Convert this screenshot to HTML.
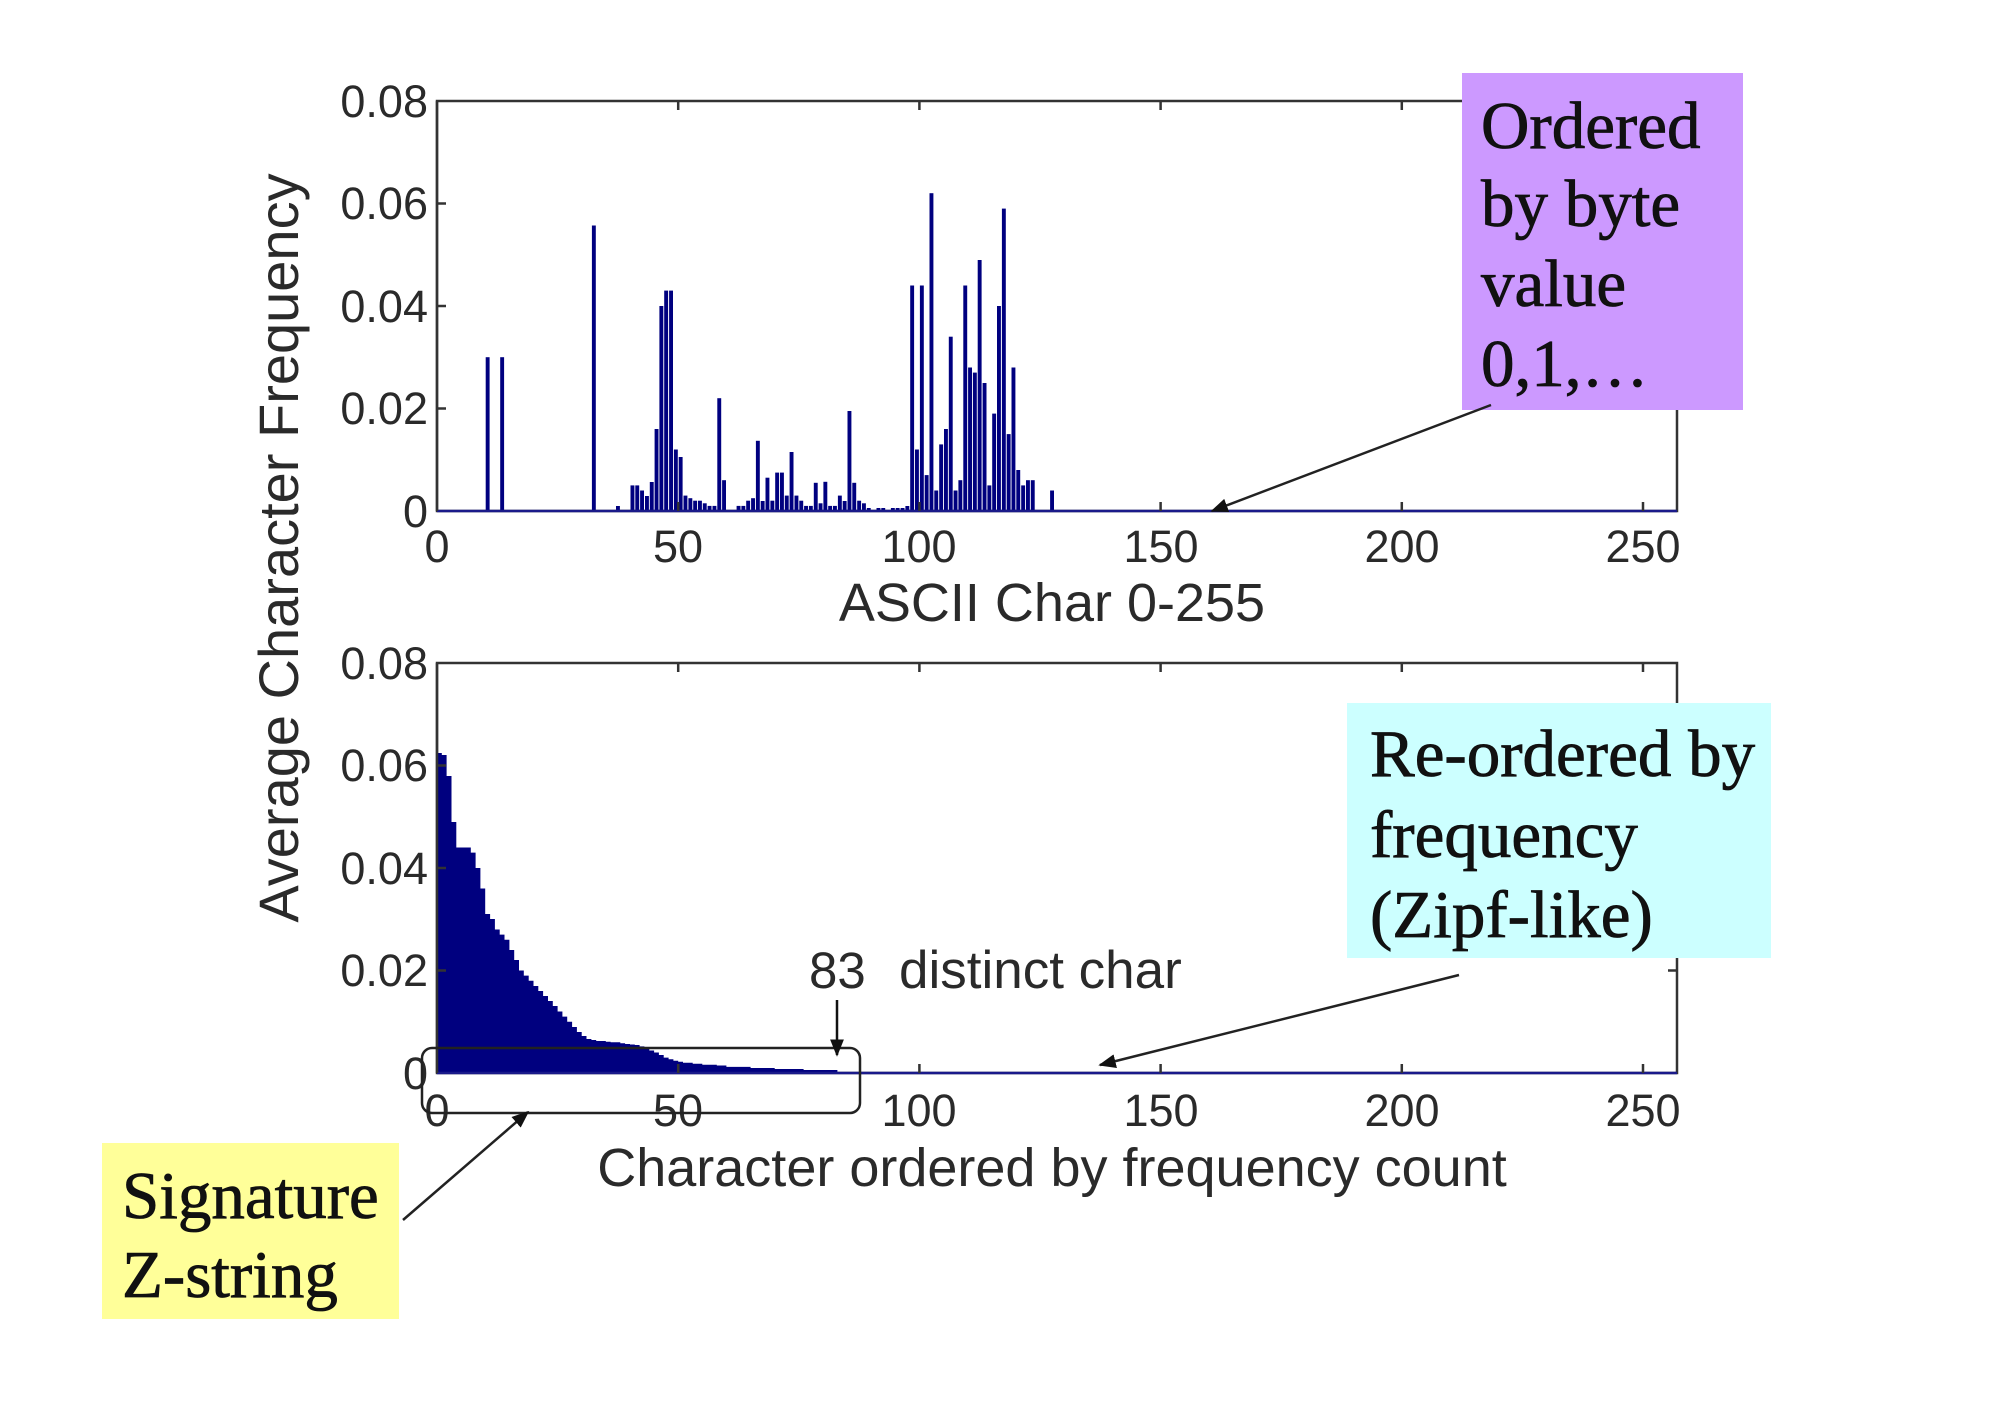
<!DOCTYPE html>
<html><head><meta charset="utf-8"><style>
html,body{margin:0;padding:0;background:#fff;}
svg{display:block;}
.t{font-family:"Liberation Sans",Arial,sans-serif;fill:#2a2a2a;}
.s{font-family:"Liberation Serif","Times New Roman",serif;fill:#111;stroke:#111;stroke-width:0.8;}
</style></head><body>
<svg width="2000" height="1418" viewBox="0 0 2000 1418" xmlns="http://www.w3.org/2000/svg">
<defs><marker id="ah" viewBox="0 0 10 10" refX="9" refY="5" markerWidth="7" markerHeight="7" orient="auto"><path d="M0,1 L10,5 L0,9 z" fill="#111"/></marker></defs>
<rect width="2000" height="1418" fill="#fff"/>

<rect x="437" y="101" width="1240" height="410" fill="#fff" stroke="#333" stroke-width="2.5"/>
<g fill="#00007f">
<rect x="485.7" y="357.2" width="3.9" height="153.8"/>
<rect x="500.2" y="357.2" width="3.9" height="153.8"/>
<rect x="591.9" y="225.5" width="3.9" height="285.5"/>
<rect x="616" y="506" width="3.9" height="5"/>
<rect x="630.5" y="485.4" width="3.9" height="25.6"/>
<rect x="635.3" y="485.4" width="3.9" height="25.6"/>
<rect x="640.1" y="490.5" width="3.9" height="20.5"/>
<rect x="645" y="496" width="3.9" height="15"/>
<rect x="649.8" y="482" width="3.9" height="29"/>
<rect x="654.6" y="429" width="3.9" height="82"/>
<rect x="659.4" y="306" width="3.9" height="205"/>
<rect x="664.2" y="290.6" width="3.9" height="220.4"/>
<rect x="669.1" y="290.6" width="3.9" height="220.4"/>
<rect x="673.9" y="449.5" width="3.9" height="61.5"/>
<rect x="678.7" y="457" width="3.9" height="54"/>
<rect x="683.5" y="495.6" width="3.9" height="15.4"/>
<rect x="688.4" y="498.2" width="3.9" height="12.8"/>
<rect x="693.2" y="500.7" width="3.9" height="10.3"/>
<rect x="698" y="500.7" width="3.9" height="10.3"/>
<rect x="702.8" y="503.3" width="3.9" height="7.7"/>
<rect x="707.6" y="505.9" width="3.9" height="5.1"/>
<rect x="712.5" y="505.9" width="3.9" height="5.1"/>
<rect x="717.3" y="398.2" width="3.9" height="112.8"/>
<rect x="722.1" y="480.2" width="3.9" height="30.8"/>
<rect x="736.6" y="505.9" width="3.9" height="5.1"/>
<rect x="741.4" y="505.9" width="3.9" height="5.1"/>
<rect x="746.2" y="500.7" width="3.9" height="10.3"/>
<rect x="751.1" y="498.2" width="3.9" height="12.8"/>
<rect x="755.9" y="440.8" width="3.9" height="70.2"/>
<rect x="760.7" y="501" width="3.9" height="10"/>
<rect x="765.5" y="477.7" width="3.9" height="33.3"/>
<rect x="770.4" y="500.7" width="3.9" height="10.3"/>
<rect x="775.2" y="472.6" width="3.9" height="38.4"/>
<rect x="780" y="472.6" width="3.9" height="38.4"/>
<rect x="784.8" y="495.6" width="3.9" height="15.4"/>
<rect x="789.6" y="452" width="3.9" height="59"/>
<rect x="794.5" y="495.6" width="3.9" height="15.4"/>
<rect x="799.3" y="500.7" width="3.9" height="10.3"/>
<rect x="804.1" y="505.9" width="3.9" height="5.1"/>
<rect x="808.9" y="505.9" width="3.9" height="5.1"/>
<rect x="813.8" y="482.8" width="3.9" height="28.2"/>
<rect x="818.6" y="503.3" width="3.9" height="7.7"/>
<rect x="823.4" y="481.8" width="3.9" height="29.2"/>
<rect x="828.2" y="505.9" width="3.9" height="5.1"/>
<rect x="833" y="505.9" width="3.9" height="5.1"/>
<rect x="837.9" y="495.6" width="3.9" height="15.4"/>
<rect x="842.7" y="501" width="3.9" height="10"/>
<rect x="847.5" y="411" width="3.9" height="100"/>
<rect x="852.3" y="482.8" width="3.9" height="28.2"/>
<rect x="857.2" y="500.7" width="3.9" height="10.3"/>
<rect x="862" y="503.3" width="3.9" height="7.7"/>
<rect x="866.8" y="508" width="3.9" height="3"/>
<rect x="876.5" y="508" width="3.9" height="3"/>
<rect x="881.3" y="508" width="3.9" height="3"/>
<rect x="890.9" y="508" width="3.9" height="3"/>
<rect x="895.7" y="508" width="3.9" height="3"/>
<rect x="900.6" y="508" width="3.9" height="3"/>
<rect x="905.4" y="506" width="3.9" height="5"/>
<rect x="910.2" y="285.5" width="3.9" height="225.5"/>
<rect x="915" y="449.5" width="3.9" height="61.5"/>
<rect x="919.9" y="285.5" width="3.9" height="225.5"/>
<rect x="924.7" y="475.1" width="3.9" height="35.9"/>
<rect x="929.5" y="193.2" width="3.9" height="317.8"/>
<rect x="934.3" y="490.5" width="3.9" height="20.5"/>
<rect x="939.2" y="444.4" width="3.9" height="66.6"/>
<rect x="944" y="429" width="3.9" height="82"/>
<rect x="948.8" y="336.7" width="3.9" height="174.3"/>
<rect x="953.6" y="490.5" width="3.9" height="20.5"/>
<rect x="958.4" y="480.2" width="3.9" height="30.8"/>
<rect x="963.3" y="285.5" width="3.9" height="225.5"/>
<rect x="968.1" y="367.5" width="3.9" height="143.5"/>
<rect x="972.9" y="372.6" width="3.9" height="138.4"/>
<rect x="977.7" y="260" width="3.9" height="251"/>
<rect x="982.6" y="383" width="3.9" height="128"/>
<rect x="987.4" y="485.4" width="3.9" height="25.6"/>
<rect x="992.2" y="413.6" width="3.9" height="97.4"/>
<rect x="997" y="306" width="3.9" height="205"/>
<rect x="1001.9" y="208.6" width="3.9" height="302.4"/>
<rect x="1006.7" y="434.1" width="3.9" height="76.9"/>
<rect x="1011.5" y="367.5" width="3.9" height="143.5"/>
<rect x="1016.3" y="470" width="3.9" height="41"/>
<rect x="1021.2" y="485.4" width="3.9" height="25.6"/>
<rect x="1026" y="480.2" width="3.9" height="30.8"/>
<rect x="1030.8" y="480.2" width="3.9" height="30.8"/>
<rect x="1050.1" y="490.5" width="3.9" height="20.5"/>
</g>
<line x1="437" y1="511" x2="1677" y2="511" stroke="#1a1a8a" stroke-width="2.5"/>
<g stroke="#333" stroke-width="2.5">
<line x1="437" y1="101" x2="437" y2="511"/>
<path d="M678.2,511v-9 M919.4,511v-9 M1160.6,511v-9 M1401.8,511v-9 M1643,511v-9 M678.2,101v9 M919.4,101v9 M1160.6,101v9 M1401.8,101v9 M1643,101v9 M437,408.5h9 M437,306h9 M437,203.5h9 M1677,408.5h-9 M1677,306h-9 M1677,203.5h-9"/>
</g>
<g class="t" font-size="45" text-anchor="end">
<text x="428" y="117">0.08</text><text x="428" y="219">0.06</text><text x="428" y="322">0.04</text><text x="428" y="424">0.02</text><text x="428" y="527">0</text>
</g>
<g class="t" font-size="45" text-anchor="middle">
<text x="437" y="562">0</text><text x="678" y="562">50</text><text x="919" y="562">100</text><text x="1161" y="562">150</text><text x="1402" y="562">200</text><text x="1643" y="562">250</text>
</g>
<text class="t" x="1052" y="621" font-size="54" text-anchor="middle">ASCII Char 0-255</text>

<rect x="437" y="663" width="1240" height="410" fill="#fff" stroke="#333" stroke-width="2.5"/>
<path fill="#00007f" d="M437,1073 V753 H441.8 V755 H446.6 V776 H451.5 V822 H456.3 V847.5 H470.8 V852.6 H475.6 V868 H480.4 V888.5 H485.2 V914 H490.1 V919 H494.9 V929.5 H499.7 V934.6 H504.5 V939.7 H509.4 V950 H514.2 V960 H519 V970.5 H523.8 V975.6 H528.7 V980.8 H533.5 V986 H538.3 V991 H543.1 V996 H548 V1001 H552.8 V1006 H557.6 V1011.5 H562.4 V1016.6 H567.2 V1021.7 H572.1 V1027 H576.9 V1032 H581.7 V1036 H586.5 V1039 H591.4 V1040 H596.2 V1041 H605.8 V1041.7 H610.6 V1042.3 H620.3 V1043.3 H625.1 V1044 H630 V1044.5 H634.8 V1045 H639.6 V1046.4 H644.4 V1048.4 H649.3 V1050.5 H654.1 V1052.5 H658.9 V1055 H663.7 V1057.6 H668.6 V1059.2 H673.4 V1060.7 H678.2 V1061.7 H683 V1062.8 H692.7 V1063.8 H702.3 V1064.8 H716.8 V1065.5 H726.4 V1066.9 H750.6 V1068 H774.7 V1069 H803.6 V1070 H837.4 V1073 Z"/>
<line x1="437" y1="1073" x2="1677" y2="1073" stroke="#1a1a8a" stroke-width="2.5"/>
<g stroke="#333" stroke-width="2.5">
<line x1="437" y1="663" x2="437" y2="1073"/>
<path d="M678.2,1073v-9 M919.4,1073v-9 M1160.6,1073v-9 M1401.8,1073v-9 M1643,1073v-9 M678.2,663v9 M919.4,663v9 M1160.6,663v9 M1401.8,663v9 M1643,663v9 M437,970.5h9 M437,868h9 M437,765.5h9 M1677,970.5h-9 M1677,868h-9 M1677,765.5h-9"/>
</g>
<g class="t" font-size="45" text-anchor="end">
<text x="428" y="679">0.08</text><text x="428" y="781">0.06</text><text x="428" y="884">0.04</text><text x="428" y="986">0.02</text><text x="428" y="1089">0</text>
</g>
<g class="t" font-size="45" text-anchor="middle">
<text x="437" y="1126">0</text><text x="678" y="1126">50</text><text x="919" y="1126">100</text><text x="1161" y="1126">150</text><text x="1402" y="1126">200</text><text x="1643" y="1126">250</text>
</g>
<text class="t" x="1052" y="1186" font-size="54" text-anchor="middle">Character ordered by frequency count</text>

<text class="t" transform="translate(298,548) rotate(-90)" font-size="56" text-anchor="middle">Average Character Frequency</text>

<rect x="422" y="1048" width="438" height="65" rx="10" fill="none" stroke="#222" stroke-width="2.5"/>
<text class="t" x="809" y="988" font-size="51" fill="#111">83</text>
<text class="t" x="899" y="988" font-size="53" fill="#111">distinct char</text>
<line x1="837" y1="1000" x2="837" y2="1055" stroke="#111" stroke-width="2.5" marker-end="url(#ah)"/>

<rect x="1462" y="73" width="281" height="337" fill="#cc99ff"/>
<g class="s" font-size="67">
<text x="1481" y="148">Ordered</text><text x="1481" y="226">by byte</text><text x="1481" y="306">value</text><text x="1481" y="386">0,1,…</text>
</g>
<line x1="1491" y1="405" x2="1212" y2="511" stroke="#222" stroke-width="2.5" marker-end="url(#ah)"/>

<rect x="1347" y="703" width="424" height="255" fill="#ccffff"/>
<g class="s" font-size="67">
<text x="1370" y="776">Re-ordered by</text><text x="1370" y="857">frequency</text><text x="1370" y="937">(Zipf-like)</text>
</g>
<line x1="1459" y1="975" x2="1100" y2="1065" stroke="#222" stroke-width="2.5" marker-end="url(#ah)"/>

<rect x="102" y="1143" width="297" height="176" fill="#ffff99"/>
<g class="s" font-size="67">
<text x="122" y="1218">Signature</text><text x="122" y="1297">Z-string</text>
</g>
<line x1="403" y1="1220" x2="528" y2="1112" stroke="#222" stroke-width="2.5" marker-end="url(#ah)"/>
</svg>
</body></html>
